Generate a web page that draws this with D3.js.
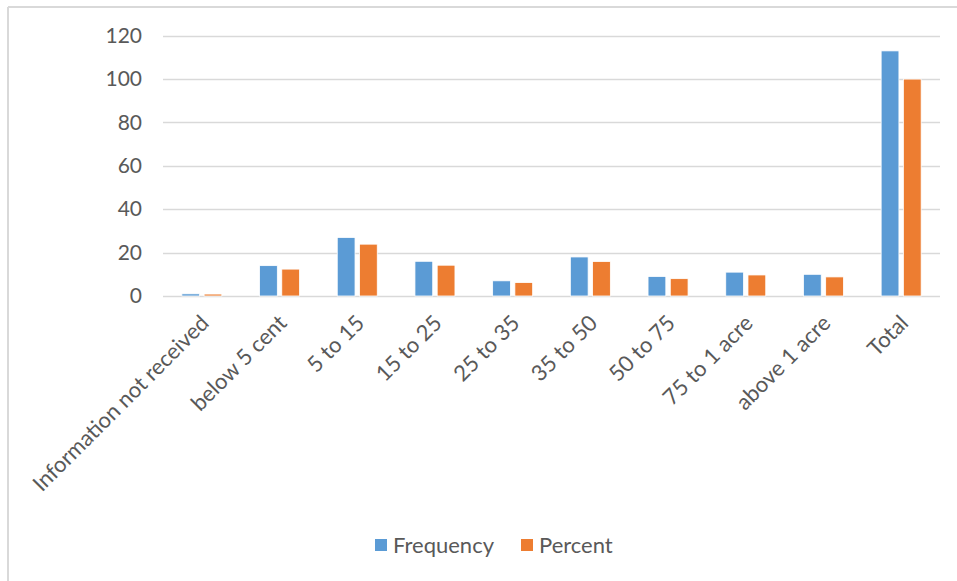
<!DOCTYPE html>
<html>
<head>
<meta charset="utf-8">
<script src="https://cdn.jsdelivr.net/npm/d3@7"></script>
<style>
  html, body { margin: 0; padding: 0; background: #fff; }
  svg { display: block; font-family: Lato, "Open Sans", sans-serif; }
</style>
</head>
<body>
<svg id="chart" width="957" height="581"></svg>
<script>
// Farm land size groups and their counts / shares
const categories = ["Information not received", "below 5 cent", "5 to 15", "15 to 25", "25 to 35",
                    "35 to 50", "50 to 75", "75 to 1 acre", "above 1 acre", "Total"];
const frequency = [1, 14, 27, 16, 7, 18, 9, 11, 10, 113];
const percent   = [0.9, 12.4, 23.9, 14.2, 6.2, 15.9, 8.0, 9.7, 8.8, 100];
const seriesNames = ["Frequency", "Percent"];
const yTicks = [0, 20, 40, 60, 80, 100, 120];

const colors = { Frequency: "#5B9BD5", Percent: "#ED7D31" };
const textColor = "#595959";
const gridColor = "#D9D9D9";

const svg = d3.select("#chart");

// outer frame (top and left edges visible)
svg.append("line").attr("x1", 8).attr("x2", 957).attr("y1", 7).attr("y2", 7)
  .attr("stroke", gridColor).attr("stroke-width", 2);
svg.append("line").attr("x1", 8).attr("x2", 8).attr("y1", 7).attr("y2", 581)
  .attr("stroke", gridColor).attr("stroke-width", 2);

const plot = { left: 163, right: 940, top: 35.7, bottom: 296 };

const y = d3.scaleLinear().domain([0, 120]).range([plot.bottom, plot.top]);
const x0 = d3.scaleBand().domain(categories).range([plot.left, plot.right])
  .paddingInner(0.485).paddingOuter(0.2425);
const x1 = d3.scaleBand().domain(seriesNames).range([0, x0.bandwidth()]).paddingInner(0.2);

// gridlines
svg.append("g").selectAll("line").data(yTicks).join("line")
  .attr("x1", plot.left).attr("x2", plot.right)
  .attr("y1", d => Math.round(y(d)) + 0.5).attr("y2", d => Math.round(y(d)) + 0.5)
  .attr("stroke", gridColor).attr("stroke-width", 1.3);

// y axis labels
const yAxis = svg.append("g").attr("transform", `translate(${plot.left},0)`)
  .call(d3.axisLeft(y).tickValues(yTicks).tickSize(0).tickPadding(21));
yAxis.select(".domain").remove();
yAxis.selectAll("text").attr("fill", textColor).style("font-size", "21px")
  .style("font-family", "Lato, 'Open Sans', sans-serif");

// bars
const rows = categories.map((c, i) => ({ cat: c, values: [
  { key: "Frequency", value: frequency[i] },
  { key: "Percent", value: percent[i] }
]}));

svg.append("g").selectAll("g").data(rows).join("g")
  .attr("transform", d => `translate(${x0(d.cat)},0)`)
  .selectAll("rect").data(d => d.values).join("rect")
  .attr("x", d => x1(d.key))
  .attr("width", x1.bandwidth())
  .attr("y", d => y(d.value))
  .attr("height", d => y(0) - y(d.value))
  .attr("fill", d => colors[d.key])
  .attr("stroke", "#fff").attr("stroke-width", 0.8);

// category axis with rotated labels
const xAxis = svg.append("g").attr("transform", `translate(0,${plot.bottom})`)
  .call(d3.axisBottom(x0).tickSize(0));
xAxis.select(".domain").remove();
xAxis.selectAll("text")
  .attr("fill", textColor).style("font-size", "22px")
  .style("font-family", "Lato, 'Open Sans', sans-serif")
  .attr("text-anchor", "end")
  .attr("dy", "0.35em")
  .attr("transform", "translate(3,23) rotate(-45)")
  .attr("y", 0).attr("x", 0);

// legend
const legend = svg.append("g").attr("transform", "translate(375,545)");
const legendItems = [{ key: "Frequency", x: 0 }, { key: "Percent", x: 146 }];
legendItems.forEach(it => {
  legend.append("rect").attr("x", it.x).attr("y", -6).attr("width", 12).attr("height", 12)
    .attr("fill", colors[it.key]);
  legend.append("text").attr("x", it.x + 18).attr("y", 0).attr("dy", "0.35em")
    .attr("fill", textColor).style("font-size", "22px").text(it.key);
});
</script>
</body>
</html>
